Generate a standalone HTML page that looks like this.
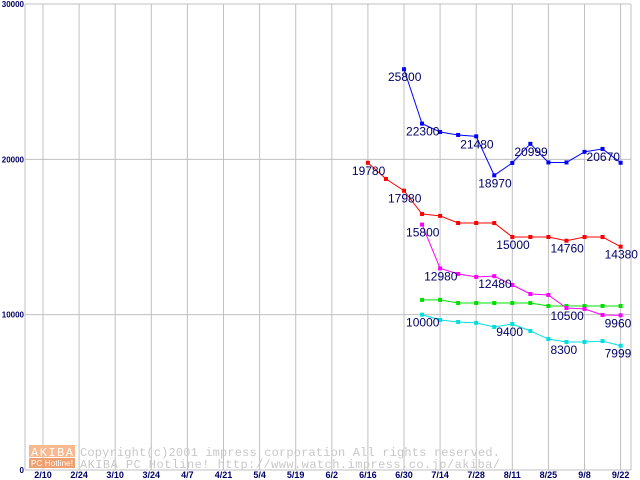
<!DOCTYPE html>
<html><head><meta charset="utf-8"><style>
body{margin:0;background:#fff;width:640px;height:480px;overflow:hidden}
svg{display:block;font-family:"Liberation Sans",sans-serif}
.lbl{font-size:12px;fill:#000066}
</style></head><body>
<svg id="chart" width="640" height="480" xmlns="http://www.w3.org/2000/svg">
<g id="grid"></g>
<g id="axes"></g>
<g id="wm">
 <rect x="29" y="445" width="46" height="12" fill="#f8b890"/>
 <rect x="29" y="458" width="46" height="10" fill="#f0a070"/>
 <text x="52" y="456" font-size="12" fill="#fff" text-anchor="middle" font-family="Liberation Mono,monospace" textLength="42">AKIBA</text>
 <text x="52" y="466" font-size="8" fill="#fff" text-anchor="middle" textLength="42">PC Hotline!</text>
 <text x="80" y="456" font-size="12" fill="#c8c8c8" font-family="Liberation Mono,monospace" textLength="420">Copyright(c)2001 impress corporation All rights reserved.</text>
 <text x="80" y="468" font-size="12" fill="#c8c8c8" font-family="Liberation Mono,monospace" textLength="420">AKIBA PC Hotline!  http://www.watch.impress.co.jp/akiba/</text>
</g>
<g id="series"></g>
</svg>
<script>
const xTickLabels=["2/10","2/24","3/10","3/24","4/7","4/21","5/4","5/19","6/2","6/16","6/30","7/14","7/28","8/11","8/25","9/8","9/22"];
const yTicks=[0,10000,20000,30000];
// week index 0 = 6/16 (grid index 9)
const blue=[null,null,25800,22300,21760,21570,21480,18970,19770,20999,19800,19800,20480,20670,19780];
const red=[19780,18740,17980,16480,16360,15900,15900,15900,15000,15000,15000,14760,15000,15000,14380];
const magenta=[null,null,null,15800,12980,12620,12430,12480,11910,11330,11270,10430,10370,9980,9960];
const green=[null,null,null,10950,10950,10750,10750,10750,10750,10750,10560,10560,10560,10560,10560];
const cyan=[null,null,null,10000,9660,9530,9470,9210,9400,8950,8430,8240,8240,8300,7999];
const blueLabels=[[2,"25800"],[3,"22300"],[6,"21480"],[7,"18970"],[9,"20999"],[13,"20670"]];
const redLabels=[[0,"19780"],[2,"17980"],[8,"15000"],[11,"14760"],[14,"14380"]];
const magentaLabels=[[3,"15800"],[4,"12980"],[7,"12480"],[11,"10500"],[14,"9960"]];
const cyanLabels=[[3,"10000"],[8,"9400"],[11,"8300"],[14,"7999"]];
const NS="http://www.w3.org/2000/svg";
const X0=43,STEP=36.1,Y0=470,Y1=4,YMAX=30000;
const xGrid=i=>X0+i*STEP;
const xWeek=w=>X0+9*STEP+w*STEP/2;
const y=v=>Y0-(v/YMAX)*(Y0-Y1);
function mk(t,a,p){const e=document.createElementNS(NS,t);for(const k in a)e.setAttribute(k,a[k]);p.appendChild(e);return e;}
const grid=document.getElementById('grid'),axes=document.getElementById('axes'),ser=document.getElementById('series');
xTickLabels.forEach((l,i)=>{
 const ln=mk('line',{x1:xGrid(i),x2:xGrid(i),y1:Y1,y2:Y0,stroke:'#c0c0c0'},grid);
 
 
 const t=mk('text',{x:xGrid(i),y:478,'font-size':9,'font-weight':'bold',fill:'#000066','text-anchor':'middle'},axes);
 t.textContent=l;
 
 
});
const lb=mk('line',{x1:25,x2:25,y1:Y1,y2:Y0,stroke:'#c0c0c0'},grid);


const rb=mk('line',{x1:631,x2:631,y1:Y1,y2:Y0,stroke:'#c0c0c0'},grid);


yTicks.forEach(v=>{
 const ln=mk('line',{x1:25,x2:631,y1:y(v),y2:y(v),stroke:'#c0c0c0'},grid);
 
 
 const t=mk('text',{x:24,y:y(v)+3,'font-size':8,'font-weight':'bold',fill:'#000066','text-anchor':'end'},axes);
 t.textContent=String(v);
 
 
});
function draw(data,color,name,labels){
 const g=mk('g',{},ser);
 
 
 const pts=[];data.forEach((v,i)=>{if(v!=null)pts.push([xWeek(i),y(v)]);});
 const pl=mk('polyline',{points:pts.map(p=>p.join(',')).join(' '),fill:'none',stroke:color,'stroke-width':1},g);
 
 
 pts.forEach(p=>{
  const r=mk('rect',{x:p[0]-2,y:p[1]-2,width:4,height:4,fill:color},g);
  
  
 });
 (labels||[]).forEach(([i,s])=>{
  const t=mk('text',{x:xWeek(i)-16,y:y(data[i])+12,class:'lbl'},g);
  t.textContent=s;
  
  
 });
}
draw(green,'#00e000','green',[]);
draw(cyan,'#00e0e0','cyan',cyanLabels);
draw(magenta,'#ff00ff','magenta',magentaLabels);
draw(red,'#ff0000','red',redLabels);
draw(blue,'#0000ff','blue',blueLabels);
</script>
</body></html>
